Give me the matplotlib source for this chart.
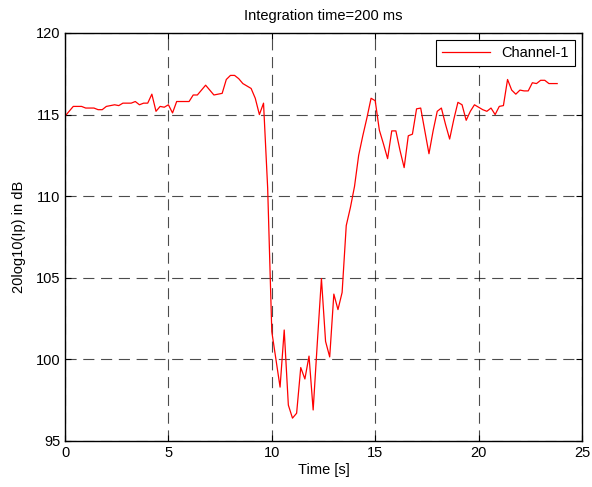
import numpy as np
import matplotlib.pyplot as plt

plt.rcParams['font.family'] = ['Liberation Sans', 'DejaVu Sans']

# 200 ms integration -> one sample every 0.2 s
time_s = np.arange(120) * 0.2
level_db = [
    114.9, 115.2, 115.5, 115.5, 115.5, 115.4, 115.4, 115.4, 115.3, 115.3,
    115.5, 115.55, 115.6, 115.55, 115.7, 115.7, 115.7, 115.8, 115.6, 115.7,
    115.7, 116.25, 115.2, 115.5, 115.45, 115.6, 115.1, 115.8, 115.8, 115.8,
    115.8, 116.2, 116.2, 116.5, 116.8, 116.5, 116.2, 116.25, 116.3, 117.15,
    117.4, 117.4, 117.2, 116.9, 116.75, 116.6, 116.0, 115.0, 115.7, 110.5,
    101.7, 100.0, 98.3, 101.8, 97.2, 96.4, 96.7, 99.5, 98.8, 100.2,
    96.9, 101.0, 104.95, 101.1, 100.15, 104.0, 103.05, 104.1, 108.2, 109.3,
    110.6, 112.5, 113.7, 114.8, 116.0, 115.85, 114.05, 113.2, 112.3, 114.0,
    114.0, 112.8, 111.75, 113.7, 113.8, 115.35, 115.4, 114.0, 112.6, 114.0,
    115.2, 115.4, 114.4, 113.5, 114.7, 115.75, 115.6, 114.65, 115.2, 115.6,
    115.45, 115.3, 115.2, 115.4, 115.0, 115.5, 115.55, 117.15, 116.5, 116.25,
    116.5, 116.45, 116.45, 116.95, 116.9, 117.1, 117.1, 116.9, 116.9, 116.9,
]

fig = plt.figure(figsize=(5.92, 4.87), dpi=100)
ax = fig.add_axes([0.1098, 0.0945, 0.8733, 0.8378])

ax.plot(time_s, level_db, color='red', lw=0.9, label='Channel-1')

ax.set_xlim(0, 25)
ax.set_ylim(95, 120)
ax.set_xticks([0, 5, 10, 15, 20, 25])
ax.set_yticks([95, 100, 105, 110, 115, 120])
ax.grid(True, color='black', linestyle=(0, (10, 6)), linewidth=0.8, alpha=0.7)
ax.tick_params(direction='in', top=True, right=True, labelsize=10.5, length=4)
for s in ax.spines.values():
    s.set_linewidth(1.0)

ax.set_title('Integration time=200 ms', fontsize=10.5, pad=9)
ax.set_xlabel('Time [s]', fontsize=10.5, labelpad=2)
ax.set_ylabel('20log10(Ip) in dB', fontsize=10.5, labelpad=7)

leg = ax.legend(loc='upper right', fontsize=10.5, fancybox=False, framealpha=1,
                edgecolor='black', handlelength=3.3, borderaxespad=0.5)
leg.get_frame().set_linewidth(0.8)

fig.savefig('out.png', dpi=100)
